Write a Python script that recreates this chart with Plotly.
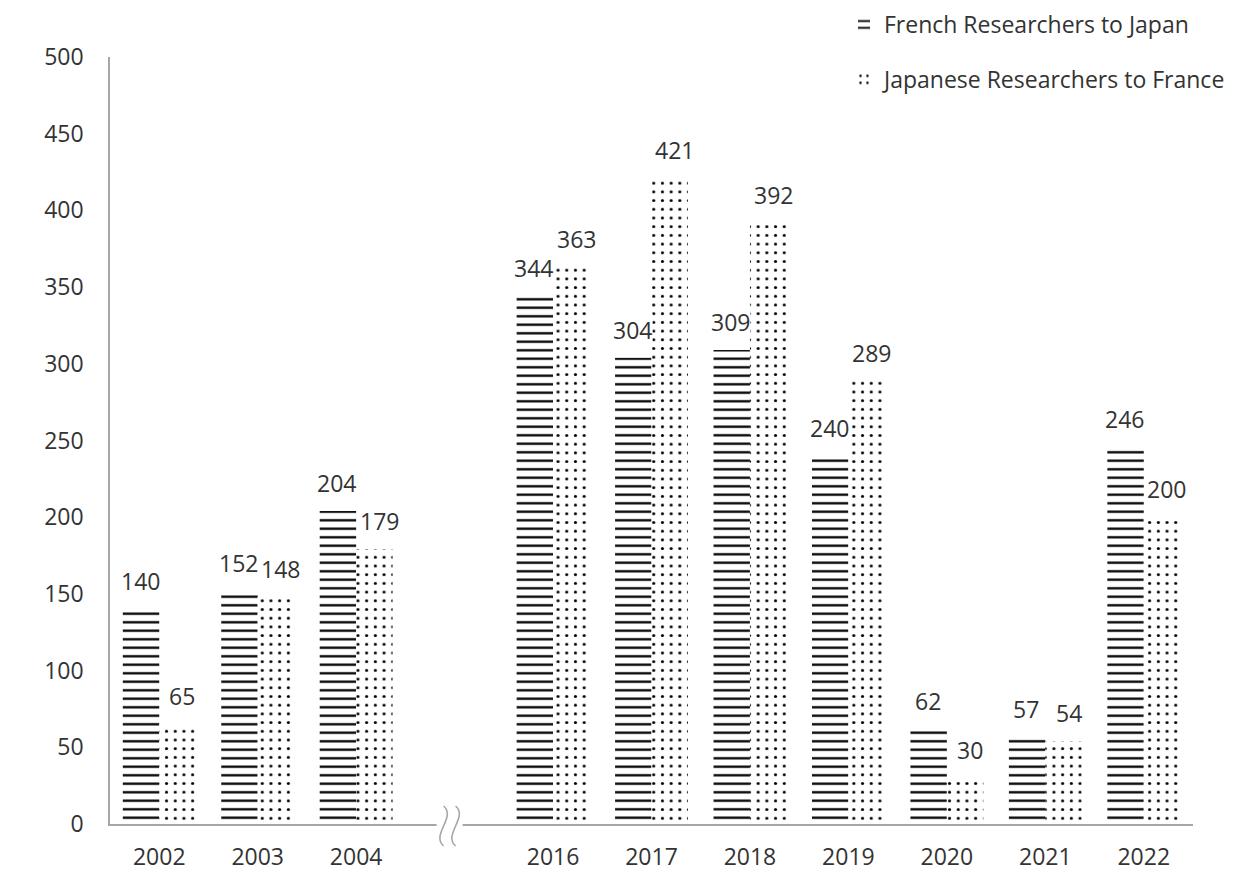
import plotly.graph_objects as go

years = ["2002", "2003", "2004", "2016", "2017", "2018", "2019", "2020", "2021", "2022"]
french_to_japan = [140, 152, 204, 344, 304, 309, 240, 62, 57, 246]
japanese_to_france = [65, 148, 179, 363, 421, 392, 289, 30, 54, 200]
series_names = ["French Researchers to Japan", "Japanese Researchers to France"]

# positions: leave one empty slot between 2004 and 2016 (axis break)
positions = []
slot = 0
for i, y in enumerate(years):
    if i > 0 and int(y) - int(years[i - 1]) > 1:
        slot += 1
    positions.append(slot)
    slot += 1
break_pos = [p - 1 for i, p in enumerate(positions) if i > 0 and p - positions[i - 1] > 1]
xr = [-0.5, max(positions) + 0.5]

FONT = "Open Sans"
FS = 23
TXT = "#333333"
AXC = "#a6a6a6"
# the page adds an 8px body margin, so the figure is sized to the visible area
W, H = 1251, 863
ML, MR, MT, MB = 102, 66, 49, 47
PH = H - MT - MB

fig = go.Figure()
fig.add_trace(go.Bar(
    x=positions, y=french_to_japan, name=series_names[0], legendgroup="a",
    marker=dict(color="white", line=dict(width=0),
                pattern=dict(shape="-", fgcolor="black", bgcolor="white", fgopacity=1,
                             size=8.5, solidity=0.27, fillmode="replace")),
))
fig.add_trace(go.Bar(
    x=positions, y=japanese_to_france, name=series_names[1], legendgroup="b",
    marker=dict(color="white", line=dict(width=0),
                pattern=dict(shape=".", fgcolor="black", bgcolor="white", fgopacity=1,
                             size=8.7, solidity=0.1, fillmode="replace")),
))

bw = 0.37
annotations = []
for p, a, b in zip(positions, french_to_japan, japanese_to_france):
    for off, v, xs in ((-bw / 2, a, -1), (bw / 2, b, 5)):
        annotations.append(dict(
            x=p + off, y=v, xref="x", yref="y", text=str(v), showarrow=False,
            yanchor="middle", yshift=28, xshift=xs, bgcolor="white", borderpad=0,
            font=dict(family=FONT, size=FS, color=TXT),
        ))

shapes = []
for bp in break_pos:
    px = (bp - xr[0]) / (xr[1] - xr[0])
    shapes.append(dict(type="rect", xref="paper", yref="paper", xsizemode="pixel", ysizemode="pixel",
                       xanchor=px, yanchor=0, x0=-18, x1=8, y0=-3, y1=3,
                       fillcolor="white", line=dict(width=0), layer="above"))
    for dx in (-11, 1):
        shapes.append(dict(
            type="path", xref="paper", yref="paper", xsizemode="pixel", ysizemode="pixel",
            xanchor=px, yanchor=0,
            path=f"M{dx},18 C{dx+13},7 {dx-13},-11 {dx},-22",
            line=dict(color=AXC, width=1.6), layer="above"))

fig.update_layout(
    width=W, height=H,
    margin=dict(l=ML, r=MR, t=MT, b=MB, autoexpand=False),
    paper_bgcolor="white", plot_bgcolor="white",
    barmode="group", bargap=0.26, bargroupgap=0,
    font=dict(family=FONT, size=FS, color=TXT),
    showlegend=True,
    legend=dict(xref="container", yref="paper", x=0.9784, xanchor="right",
                y=(PH + MT + 5) / PH, yanchor="top",
                font=dict(family=FONT, size=FS, color=TXT),
                tracegroupgap=22, itemsizing="constant", bgcolor="rgba(0,0,0,0)"),
    xaxis=dict(range=xr, tickmode="array", tickvals=positions, ticktext=years,
               showline=True, linecolor=AXC, linewidth=1.5, showgrid=False, zeroline=False,
               ticks="", ticklabelstandoff=12, automargin=False,
               tickfont=dict(family=FONT, size=FS, color=TXT)),
    yaxis=dict(range=[0, 500], dtick=50, showline=True, linecolor=AXC, linewidth=1.5,
               showgrid=False, zeroline=False, ticks="", ticklabelstandoff=20, automargin=False,
               tickfont=dict(family=FONT, size=FS, color=TXT)),
    annotations=annotations,
    shapes=shapes,
)

fig.write_html("out.html")
